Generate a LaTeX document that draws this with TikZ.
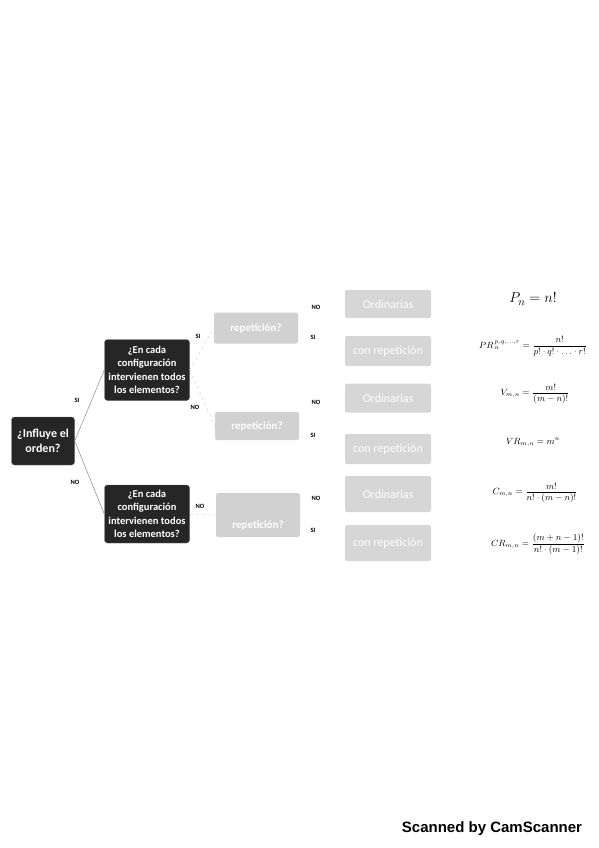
\documentclass[tikz,border=0pt]{standalone}
\usepackage{amsmath, amssymb}
\usepackage{fontspec}
\setmainfont{Carlito}
\newfontfamily\scanfont{Liberation Sans}
\usetikzlibrary{arrows.meta, positioning, calc}

\tikzset{
  darkbox/.style={draw=black!60, fill=black!85, rounded corners=3pt, text=white,
    align=center, font=\bfseries\fontsize{10.5}{13.5}\selectfont, inner sep=1pt},
  askbox/.style={fill=black!18, rounded corners=2pt, text=white,
    font=\bfseries\fontsize{11}{13}\selectfont, minimum width=84pt},
  leafbox/.style={fill=black!16, rounded corners=2pt, text=white,
    font=\fontsize{12}{14}\selectfont, minimum width=86pt},
  lbl/.style={font=\bfseries\fontsize{6.5}{7}\selectfont},
  frm/.style={font=\fontsize{9}{11}\selectfont},
}

\begin{document}
\begin{tikzpicture}[x=1pt, y=-1pt]
  \useasboundingbox (0,0) rectangle (599,848);

  % first question
  \node[darkbox, minimum width=63pt, minimum height=48pt, font=\bfseries\fontsize{12}{15}\selectfont]
    (orden) at (43,441) {¿Influye el\\orden?};
  \node[darkbox, minimum width=85pt, minimum height=61pt] (todosA) at (147,370)
    {¿En cada\\configuración\\intervienen todos\\los elementos?};
  \node[darkbox, minimum width=85pt, minimum height=58pt] (todosB) at (147,514)
    {¿En cada\\configuración\\intervienen todos\\los elementos?};
  \draw[black!55] (orden.east) -- (todosA.west);
  \draw[black!55] (orden.east) -- (todosB.west);
  \node[lbl] at (77,400) {SI};
  \node[lbl] at (75,482) {NO};

  % repetition questions
  \node[askbox, minimum height=31pt] (repA) at (256,328) {repetición?};
  \node[askbox, minimum height=28pt] (repB) at (257,426) {repetición?};
  \node[askbox, minimum height=44pt, text depth=0pt, text height=26pt] (repC) at (258,515) {repetición?};
  \draw[black!22, dashed] (todosA.east) -- (repA.west);
  \draw[black!22, dashed] (todosA.east) -- (repB.west);
  \draw[black!22, dashed] (todosB.east) -- (repC.west);
  \node[lbl] at (198,336) {SI};
  \node[lbl] at (195,407) {NO};
  \node[lbl] at (200,506) {NO};

  % kinds
  \node[leafbox, minimum height=28pt] (ordA) at (388,304) {Ordinarias};
  \node[leafbox, minimum height=30pt] (conA) at (388,351) {con repetición};
  \node[leafbox, minimum height=29pt] (ordB) at (388,398) {Ordinarias};
  \node[leafbox, minimum height=30pt] (conB) at (388,449) {con repetición};
  \node[leafbox, minimum height=36pt] (ordC) at (388,494) {Ordinarias};
  \node[leafbox, minimum height=36pt] (conC) at (388,543) {con repetición};
  \node[lbl] at (316,307) {NO};
  \node[lbl] at (313,337) {SI};
  \node[lbl] at (316,402) {NO};
  \node[lbl] at (313,435) {SI};
  \node[lbl] at (316,498) {NO};
  \node[lbl] at (313,530) {SI};

  % formulas
  \node[font=\fontsize{15}{17}\selectfont] (fP) at (533,299) {$P_n = n!$};
  \node[frm] (fPR) at (533,346) {$\displaystyle PR_{\,n}^{\,p,q,\ldots,r} = \frac{n!}{p!\cdot q!\cdot\ldots\cdot r!}$};
  \node[frm] (fV) at (535,394) {$\displaystyle V_{m,n} = \frac{m!}{(m-n)!}$};
  \node[frm] (fVR) at (533,442) {$\displaystyle VR_{m,n} = m^n$};
  \node[frm] (fC) at (535,493) {$\displaystyle C_{m,n} = \frac{m!}{n!\cdot(m-n)!}$};
  \node[frm] (fCR) at (538,544) {$\displaystyle CR_{m,n} = \frac{(m+n-1)!}{n!\cdot(m-1)!}$};

  \node[font=\scanfont\bfseries\fontsize{15}{17}\selectfont] (scan) at (492,829) {Scanned by CamScanner};
\end{tikzpicture}
\end{document}
